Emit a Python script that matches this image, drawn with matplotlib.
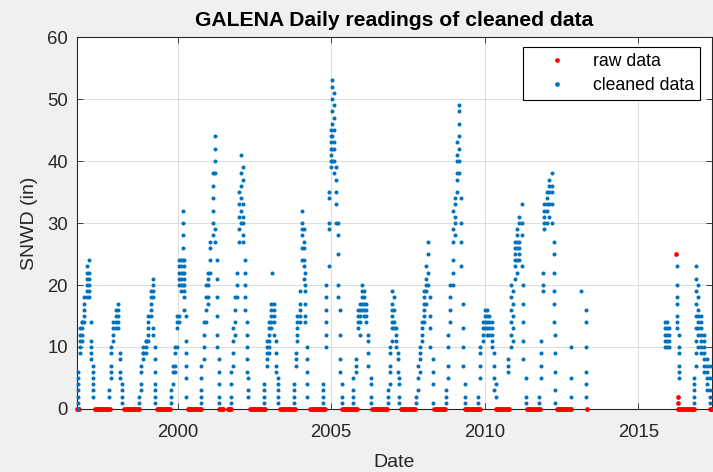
import matplotlib
matplotlib.use("Agg")
import matplotlib.pyplot as plt
from matplotlib.lines import Line2D

# ---- data: (decimal year, [snow depth readings in inches]) per winter ----
season_1997 = [(1996.76, [0, 1, 2, 3, 4, 5, 6]), (1996.82, [9, 10, 11, 12, 13]),
               (1996.88, [11, 12, 13, 14, 14]), (1996.95, [14, 15, 16, 17, 18]),
               (1997.03, [18, 19, 20, 21, 22, 23]), (1997.11, [18, 19, 20, 21, 22, 24]),
               (1997.18, [14, 11, 10, 9, 8]), (1997.25, [7, 6, 5, 4, 3, 2])]
season_1998 = [(1997.76, [2, 3]), (1997.82, [5, 6, 7, 9, 10]), (1997.90, [11, 12, 13, 14]),
               (1997.98, [13, 14, 15, 16]), (1998.04, [13, 14, 15, 16, 17]),
               (1998.12, [9, 8, 6, 5]), (1998.18, [4, 3, 2, 1])]
season_1999 = [(1998.74, [1, 2]), (1998.80, [3, 4, 6, 7]), (1998.88, [8, 9, 9, 10]),
               (1998.96, [9, 10, 11, 11]), (1999.04, [11, 12, 13, 14, 15]),
               (1999.12, [15, 16, 17, 18, 19]), (1999.20, [12, 13, 18, 19, 20, 21]),
               (1999.27, [10, 8, 6, 4, 3, 2, 1])]
season_2000 = [(1999.78, [1, 2, 3]), (1999.86, [4, 6, 7]), (1999.92, [6, 7, 9, 10]),
               (1999.98, [10, 13, 14, 15]), (2000.04, [14, 15, 20, 21, 22, 23, 24]),
               (2000.10, [19, 20, 21, 22, 23, 24]), (2000.16, [20, 22, 24, 26, 28, 30, 32]),
               (2000.22, [16, 18, 19, 20, 21, 22, 23, 24]), (2000.28, [15, 11, 9, 7, 5, 2])]
season_2001 = [(2000.76, [1, 2, 3, 5, 7]), (2000.84, [8, 10, 12, 14]),
               (2000.92, [14, 16, 18, 20]), (2001.00, [17, 18, 20, 21, 22]),
               (2001.06, [22, 24, 26, 27]), (2001.14, [28, 30, 32, 34, 36, 38]),
               (2001.22, [27, 29, 38, 40, 42, 44]), (2001.28, [24, 21, 18, 15, 12, 10]),
               (2001.34, [8, 6, 4, 2, 1])]
season_2002 = [(2001.72, [1, 2, 4, 6]), (2001.80, [7, 9, 11, 13]), (2001.88, [12, 14, 16, 18]),
               (2001.94, [18, 20, 22]), (2002.00, [27, 29, 31, 33, 35]),
               (2002.06, [30, 32, 34, 36, 38, 41]), (2002.12, [27, 28, 30, 31, 33, 37, 39]),
               (2002.18, [24, 22, 20, 18, 16]), (2002.24, [14, 12, 10, 8, 6]),
               (2002.30, [5, 3, 2])]
season_2003 = [(2002.80, [1, 2, 3, 4]), (2002.90, [7, 8, 9, 10, 11]),
               (2002.98, [9, 10, 11, 12, 13, 14]), (2003.04, [13, 14, 15, 16, 17]),
               (2003.08, [22]), (2003.12, [12, 14, 15, 16, 17]), (2003.20, [11, 9, 7, 6]),
               (2003.28, [5, 4, 3, 2, 1])]
season_2004 = [(2003.78, [1, 2, 3, 4]), (2003.84, [7, 8, 9]), (2003.90, [11, 12, 13, 14, 15]),
               (2003.98, [14, 15, 16, 17, 19]), (2004.04, [24, 26, 28, 29, 30, 32]),
               (2004.10, [21, 23, 24, 26, 27, 29]), (2004.16, [14, 15, 17, 19, 20, 22]),
               (2004.22, [10, 8, 6, 4, 2])]
season_2005 = [(2004.74, [1, 2, 3, 4]), (2004.84, [10, 12, 14, 16, 18, 20]),
               (2004.92, [23, 29, 30, 34, 35]), (2004.98, [39, 40, 41, 42, 43, 44, 45]),
               (2005.04, [40, 42, 44, 46, 48, 50, 52, 53]),
               (2005.10, [38, 40, 42, 43, 45, 47, 49, 51]), (2005.16, [30, 33, 35, 37, 39]),
               (2005.22, [18, 20, 25, 28, 30]), (2005.28, [16, 12, 8, 6]), (2005.34, [4, 2, 1])]
season_2006 = [(2005.72, [1, 2, 3, 5]), (2005.80, [6, 7, 8]), (2005.86, [13, 14, 15, 16]),
               (2005.94, [12, 14, 15, 16, 17]), (2006.00, [16, 17, 18, 19, 20]),
               (2006.06, [15, 16, 17, 18, 19]), (2006.14, [14, 15, 16, 17]),
               (2006.20, [12, 11, 9, 7]), (2006.28, [5, 4, 2, 1])]
season_2007 = [(2006.86, [1, 2, 3]), (2006.92, [4, 6, 7, 9, 10]),
               (2006.98, [11, 13, 14, 15, 16, 17, 19]), (2007.04, [13, 14, 16, 18]),
               (2007.10, [10, 11, 12, 13]), (2007.16, [9, 8, 6]), (2007.22, [5, 4, 2, 1])]
season_2008 = [(2007.76, [1, 2]), (2007.82, [3, 5, 7]), (2007.88, [6, 8, 9, 10]),
               (2007.96, [11, 12, 13, 14]), (2008.02, [14, 15, 16, 17, 18, 19]),
               (2008.10, [17, 19, 20, 21, 23]), (2008.16, [20, 22, 25, 27]),
               (2008.22, [18, 15, 13, 10]), (2008.30, [8, 6, 4, 1])]
season_2009 = [(2008.74, [1, 2, 3]), (2008.80, [5, 7, 10, 12]), (2008.88, [14, 16, 18, 20]),
               (2008.96, [20, 22, 24, 27, 29, 32]), (2009.04, [28, 30, 31, 33, 34]),
               (2009.10, [35, 37, 38, 40, 41, 43]), (2009.16, [38, 40, 42, 44, 46, 48, 49]),
               (2009.22, [34, 30, 27, 23]), (2009.28, [17, 13, 10, 7]), (2009.34, [4, 2, 1])]
season_2010 = [(2009.78, [1, 2]), (2009.86, [5, 7, 9, 10]), (2009.94, [11, 12, 13, 14]),
               (2010.00, [13, 14, 15, 16]), (2010.06, [12, 13, 14, 15, 16]),
               (2010.14, [12, 13, 14, 15]), (2010.22, [10, 11, 12, 13, 14]),
               (2010.30, [9, 7, 5, 3]), (2010.36, [4, 2])]
season_2011 = [(2010.76, [6, 7, 8]), (2010.84, [10, 12, 14, 16, 18, 20]),
               (2010.92, [11, 13, 15, 17, 19]), (2011.00, [21, 23, 24, 25, 26, 27]),
               (2011.06, [22, 24, 26, 27, 28, 29]), (2011.12, [24, 25, 26, 27, 30, 31]),
               (2011.20, [23, 28, 30, 33]), (2011.26, [20, 17, 14, 11, 8]),
               (2011.34, [5, 2, 1])]
season_2012 = [(2011.76, [1, 2]), (2011.82, [5, 7, 9, 11]), (2011.88, [19, 20, 22]),
               (2011.94, [29, 30, 31, 32, 33]), (2012.02, [30, 32, 33, 34, 35]),
               (2012.10, [31, 33, 35, 36, 37]), (2012.18, [30, 33, 35, 36, 38]),
               (2012.24, [27, 25, 22, 19, 17, 14]), (2012.30, [12, 9, 6, 3, 1])]
season_2013 = [(2012.82, [2, 5, 10]), (2013.12, [19]), (2013.30, [16, 14, 10, 6, 4, 2])]
season_2016 = [(2015.88, [10, 11, 12, 13, 14]), (2015.94, [10, 11, 12, 13, 14]),
               (2016.00, [10, 11, 12, 13]), (2016.26, [23, 20, 18, 17, 15, 14, 13]),
               (2016.32, [12, 10, 9, 7, 6, 5])]
season_2017 = [(2016.80, [1, 2, 3, 4, 5]), (2016.88, [7, 9, 11, 13, 15, 17, 19, 21, 23]),
               (2016.96, [10, 12, 13, 14, 15, 16, 18, 20]),
               (2017.04, [9, 10, 11, 12, 13, 14, 15]), (2017.14, [6, 7, 8, 9, 10, 11, 12]),
               (2017.24, [3, 4, 5, 6, 7, 8]), (2017.34, [1, 2, 3, 5, 7])]

# raw readings of zero (summers) and raw outliers removed by cleaning
raw_zero_dates = [
    1996.72, 1996.76, 1996.80,
    1997.30, 1997.34, 1997.38, 1997.42, 1997.46, 1997.50, 1997.54, 1997.58, 1997.62, 1997.66, 1997.70, 1997.74, 1997.78,
    1998.26, 1998.30, 1998.34, 1998.38, 1998.42, 1998.46, 1998.50, 1998.54, 1998.58, 1998.62, 1998.66, 1998.70, 1998.74,
    1999.34, 1999.38, 1999.42, 1999.46, 1999.50, 1999.54, 1999.58, 1999.62, 1999.66, 1999.70, 1999.74,
    2000.32, 2000.36, 2000.40, 2000.44, 2000.48, 2000.52, 2000.56, 2000.60, 2000.64, 2000.68, 2000.72, 2000.75,
    2001.36, 2001.40, 2001.44, 2001.48, 2001.63, 2001.67, 2001.71, 2001.74,
    2002.36, 2002.40, 2002.44, 2002.48, 2002.52, 2002.56, 2002.60, 2002.64, 2002.68, 2002.72, 2002.76, 2002.80, 2002.83,
    2003.34, 2003.38, 2003.42, 2003.46, 2003.50, 2003.54, 2003.58, 2003.62, 2003.66, 2003.70, 2003.74, 2003.78, 2003.82,
    2004.32, 2004.36, 2004.40, 2004.44, 2004.48, 2004.52, 2004.56, 2004.60, 2004.64, 2004.68, 2004.72, 2004.76, 2004.79,
    2005.36, 2005.40, 2005.44, 2005.48, 2005.52, 2005.56, 2005.60, 2005.64, 2005.68, 2005.72, 2005.76, 2005.80, 2005.84,
    2006.34, 2006.38, 2006.42, 2006.46, 2006.50, 2006.54, 2006.58, 2006.62, 2006.66, 2006.70, 2006.74, 2006.78, 2006.82,
    2007.28, 2007.32, 2007.36, 2007.40, 2007.44, 2007.48, 2007.52, 2007.56, 2007.60, 2007.64, 2007.68, 2007.72,
    2008.36, 2008.40, 2008.44, 2008.48, 2008.52, 2008.56, 2008.60, 2008.64, 2008.68, 2008.72,
    2009.34, 2009.38, 2009.42, 2009.46, 2009.50, 2009.54, 2009.58, 2009.62, 2009.66, 2009.70, 2009.74, 2009.78, 2009.82, 2009.86,
    2010.36, 2010.40, 2010.44, 2010.48, 2010.52, 2010.56, 2010.60, 2010.64, 2010.68, 2010.72, 2010.76, 2010.78,
    2011.36, 2011.40, 2011.44, 2011.48, 2011.52, 2011.56, 2011.60, 2011.64, 2011.68, 2011.72, 2011.76, 2011.80,
    2012.36, 2012.40, 2012.44, 2012.48, 2012.52, 2012.56, 2012.60, 2012.64, 2012.68, 2012.72, 2012.76, 2012.80,
    2013.34,
    2016.30, 2016.34, 2016.38, 2016.42, 2016.46, 2016.50, 2016.54, 2016.58, 2016.62, 2016.66, 2016.70, 2016.74, 2016.78, 2016.82,
    2017.32, 2017.36, 2017.40,
]
raw_outlier_dates = [2016.24, 2016.28, 2016.29]
raw_outlier_depths = [25, 2, 1]

x_ticks = [2000, 2005, 2010, 2015]
y_ticks = [0, 10, 20, 30, 40, 50, 60]

seasons = [season_1997, season_1998, season_1999, season_2000, season_2001, season_2002,
           season_2003, season_2004, season_2005, season_2006, season_2007, season_2008,
           season_2009, season_2010, season_2011, season_2012, season_2013, season_2016,
           season_2017]

clean_x, clean_y = [], []
for season in seasons:
    for d, vals in season:
        for v in vals:
            clean_x.append(d)
            clean_y.append(v)

raw_x = raw_zero_dates + raw_outlier_dates
raw_y = [0] * len(raw_zero_dates) + raw_outlier_depths

# ---- figure ----
plt.rcParams['font.family'] = ['Liberation Sans', 'DejaVu Sans']
BLUE = '#0072BD'
TXT = '#262626'

fig = plt.figure(figsize=(7.13, 4.72), dpi=100, facecolor='#f0f0f0')
ax = fig.add_axes([0.108, 0.1335, 0.8906, 0.788])
ax.set_facecolor('white')

ax.plot(raw_x, raw_y, linestyle='none', marker='o', markersize=3.4, color='red',
        markeredgewidth=0, label='raw data', clip_on=False, zorder=3)
ax.plot(clean_x, clean_y, linestyle='none', marker='o', markersize=2.9, color=BLUE,
        markeredgewidth=0, label='cleaned data', clip_on=False, zorder=4)

ax.set_xlim(1996.72, 2017.40)
ax.set_ylim(0, 60)
ax.set_xticks(x_ticks)
ax.set_xticklabels([str(t) for t in x_ticks])
ax.set_yticks(y_ticks)
ax.grid(True, color='#dcdcdc', linewidth=0.7)
ax.set_axisbelow(True)
ax.tick_params(direction='in', length=4, width=0.6, colors=TXT, labelsize=13.3,
               top=True, right=True)
ax.tick_params(axis='x', pad=11)
ax.tick_params(axis='y', pad=6.5)
for s in ax.spines.values():
    s.set_color(TXT)
    s.set_linewidth(0.8)

ax.set_title('GALENA Daily readings of cleaned data', fontsize=15.2, fontweight='bold',
             color='black', pad=8)
ax.set_xlabel('Date', fontsize=14, color=TXT, labelpad=9)
ax.set_ylabel('SNWD (in)', fontsize=14, color=TXT, labelpad=6.5)

handles = [Line2D([], [], linestyle='none', marker='o', markersize=3.4, color='red', markeredgewidth=0),
           Line2D([], [], linestyle='none', marker='o', markersize=3.4, color=BLUE, markeredgewidth=0)]
leg = ax.legend(handles, ['raw data', 'cleaned data'], loc='upper right',
                bbox_to_anchor=(0.981, 0.973), fontsize=12.7, frameon=True, fancybox=False,
                edgecolor='black', framealpha=1, borderaxespad=0, handletextpad=0.4,
                handlelength=3.2, borderpad=0.35, labelspacing=0.4)
leg.get_frame().set_linewidth(0.8)

fig.savefig('out.png', dpi=100, facecolor=fig.get_facecolor())
